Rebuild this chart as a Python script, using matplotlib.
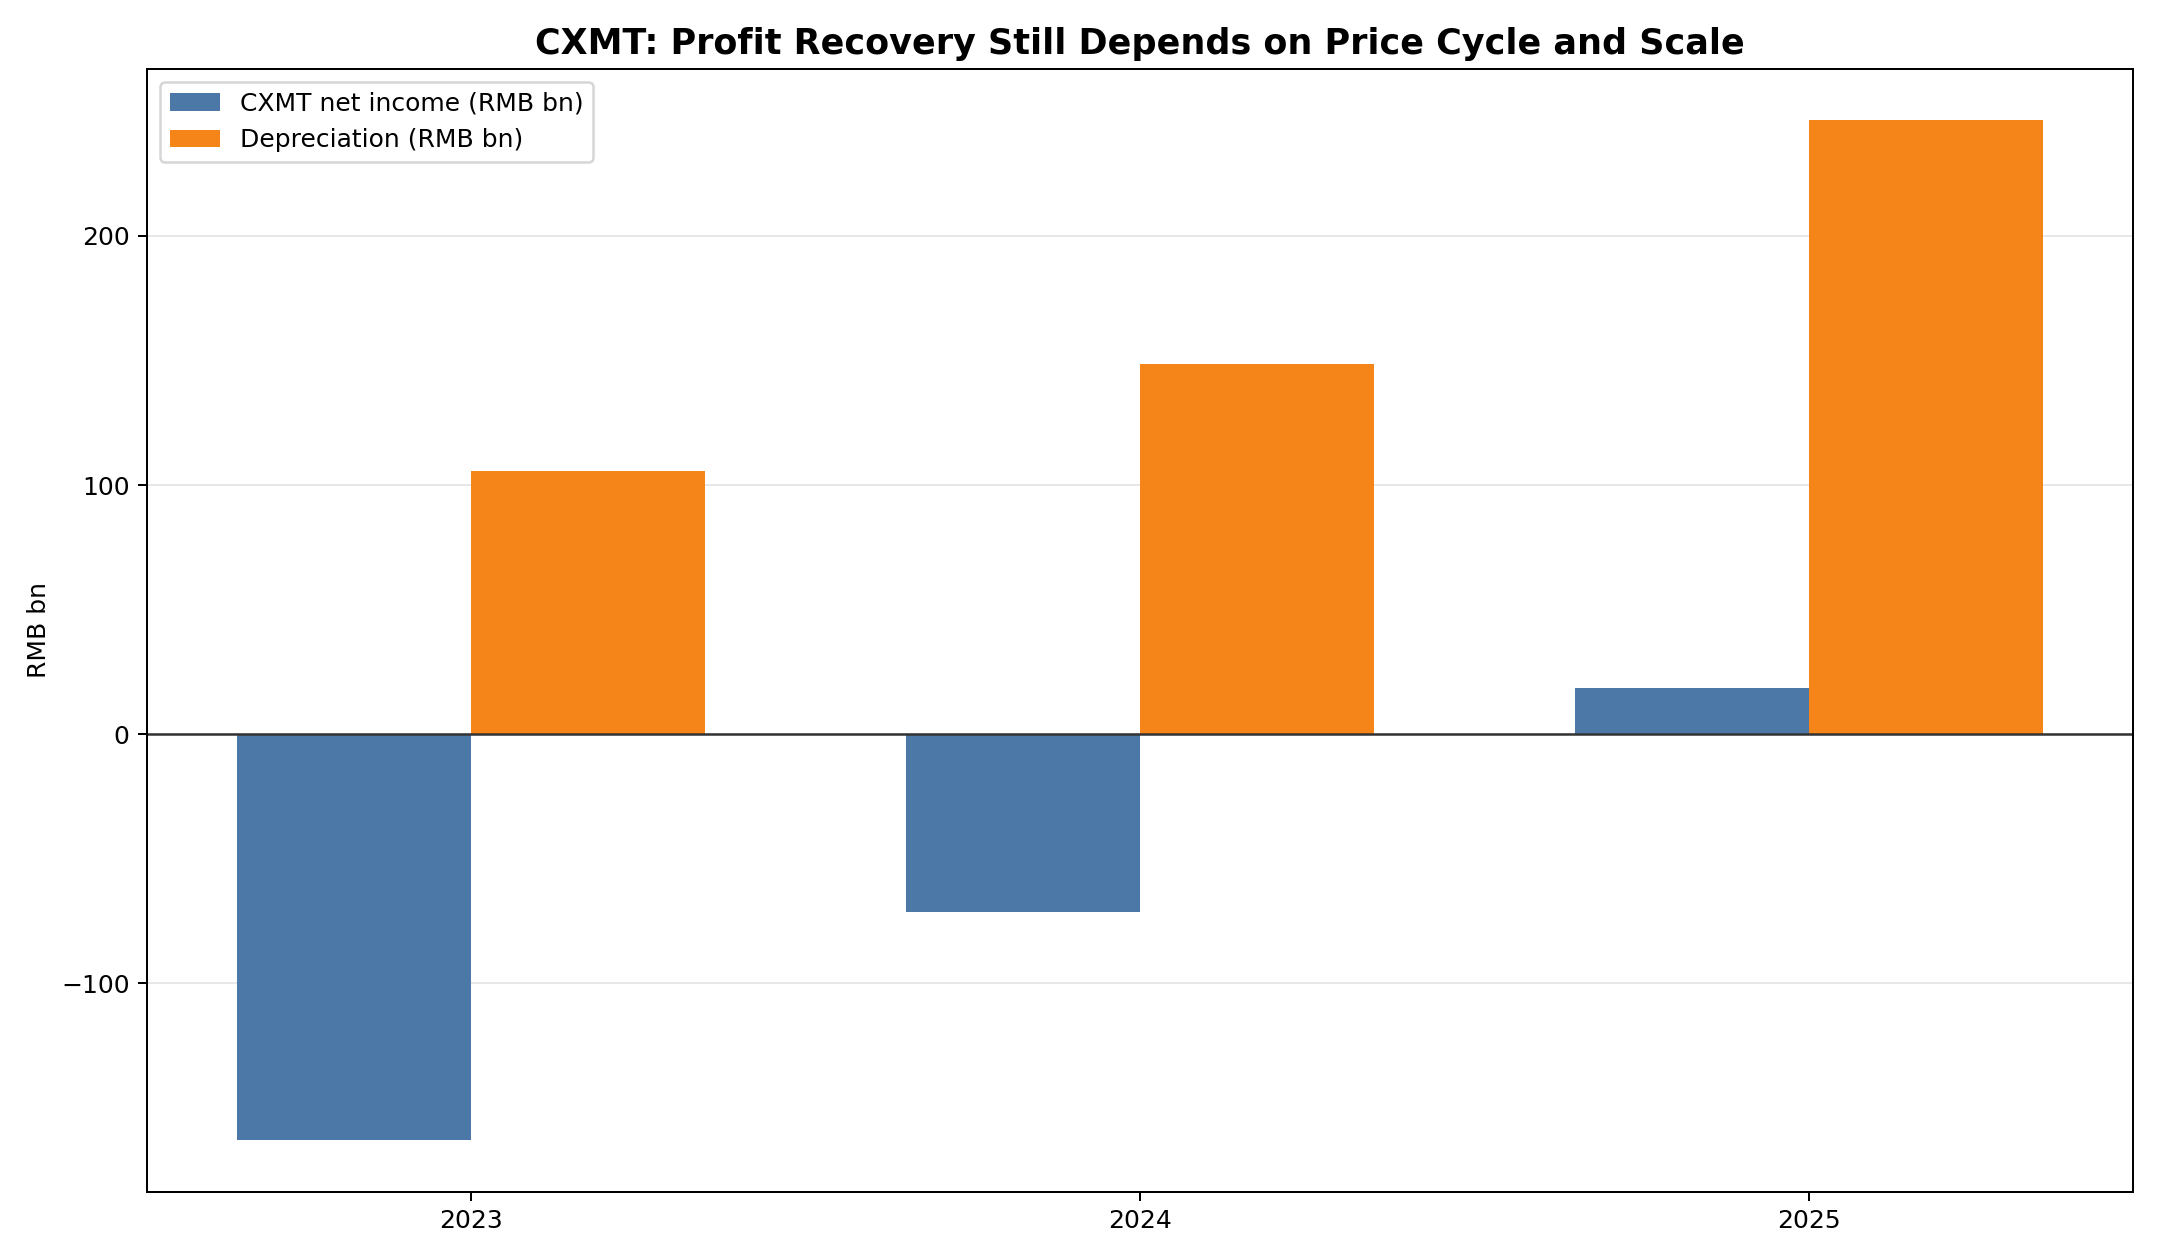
import numpy as np
import matplotlib
matplotlib.use("Agg")
import matplotlib.pyplot as plt

# Data (RMB bn)
years = ["2023", "2024", "2025"]
net_income = [-163.0, -71.5, 18.6]
depreciation = [105.5, 148.5, 246.5]

x = np.arange(len(years))
width = 0.35

fig, ax = plt.subplots(figsize=(12, 7), dpi=180)

ax.bar(x - width / 2, net_income, width, color="#4c78a8", label="CXMT net income (RMB bn)")
ax.bar(x + width / 2, depreciation, width, color="#f58518", label="Depreciation (RMB bn)")

ax.axhline(0, color="#333333", linewidth=1)
ax.set_xticks(x)
ax.set_xticklabels(years)
ax.set_ylabel("RMB bn")
ax.set_title("CXMT: Profit Recovery Still Depends on Price Cycle and Scale",
             fontsize=14, fontweight="bold")
ax.grid(axis="y", alpha=0.3)
ax.set_axisbelow(True)
ax.legend(loc="upper left")

plt.tight_layout()
plt.savefig("out.png")
